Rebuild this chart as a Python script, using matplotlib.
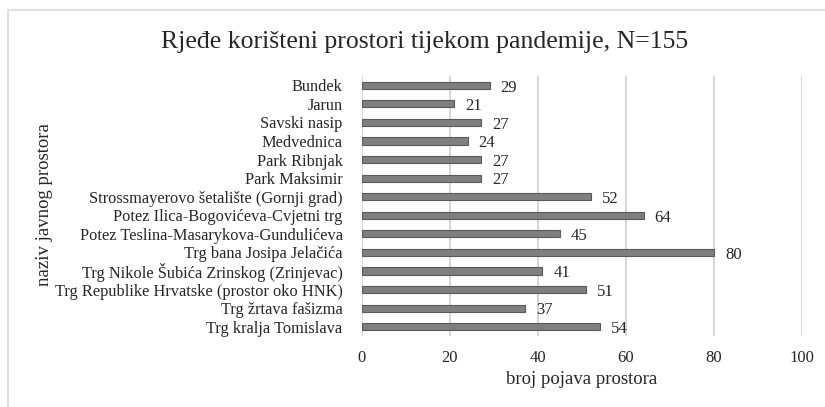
import matplotlib.pyplot as plt
from matplotlib.patches import Rectangle

prostori = ['Bundek', 'Jarun', 'Savski nasip', 'Medvednica', 'Park Ribnjak',
            'Park Maksimir', 'Strossmayerovo šetalište (Gornji grad)',
            'Potez Ilica-Bogovićeva-Cvjetni trg',
            'Potez Teslina-Masarykova-Gundulićeva', 'Trg bana Josipa Jelačića',
            'Trg Nikole Šubića Zrinskog (Zrinjevac)',
            'Trg Republike Hrvatske (prostor oko HNK)', 'Trg žrtava fašizma',
            'Trg kralja Tomislava']
broj = [29, 21, 27, 24, 27, 27, 52, 64, 45, 80, 41, 51, 37, 54]
x_ticks = [0, 20, 40, 60, 80, 100]

plt.rcParams['font.family'] = ['Liberation Serif', 'DejaVu Serif']
txt = '#262626'

fig = plt.figure(figsize=(8.25, 4.07), dpi=100)
fig.patches.append(Rectangle((8 / 825, -0.1), 1.2, 1.1 - 10 / 407,
                             transform=fig.transFigure, fill=False,
                             edgecolor='#d9d9d9', linewidth=1.2))
ax = fig.add_axes([362 / 825, 1 - 336 / 407, 440 / 825, 260 / 407])

y = list(range(len(prostori)))
ax.barh(y, broj, height=0.38, color='#7f7f7f', edgecolor='#595959',
        linewidth=0.8, zorder=3)
for yi, v in zip(y, broj):
    ax.text(v + 2.5, yi + 0.12, str(v), va='center', ha='left', fontsize=12,
            color=txt)

ax.set_xlim(0, 100)
ax.set_ylim(len(prostori) - 0.5, -0.5)
ax.set_yticks(y)
ax.set_yticklabels(prostori, fontsize=11.8, color=txt)
ax.set_xticks(x_ticks)
ax.set_xticklabels([str(t) for t in x_ticks], fontsize=12, color=txt)
ax.tick_params(axis='both', length=0)
ax.tick_params(axis='y', pad=14)
ax.tick_params(axis='x', pad=10)
ax.grid(axis='x', color='#d0d0d0', linewidth=1.2, zorder=0)
for s in ax.spines.values():
    s.set_visible(False)

ax.set_xlabel('broj pojava prostora', fontsize=13.5, color=txt, labelpad=4)
fig.text(45 / 825, 1 - 205 / 407, 'naziv javnog prostora', rotation=90,
         ha='center', va='center', fontsize=13.5, color=txt)
fig.text(425 / 825, 1 - 42 / 407, 'Rjeđe korišteni prostori tijekom pandemije, N=155',
         ha='center', va='center', fontsize=18.5, color=txt)

fig.savefig('out.png', dpi=100)
